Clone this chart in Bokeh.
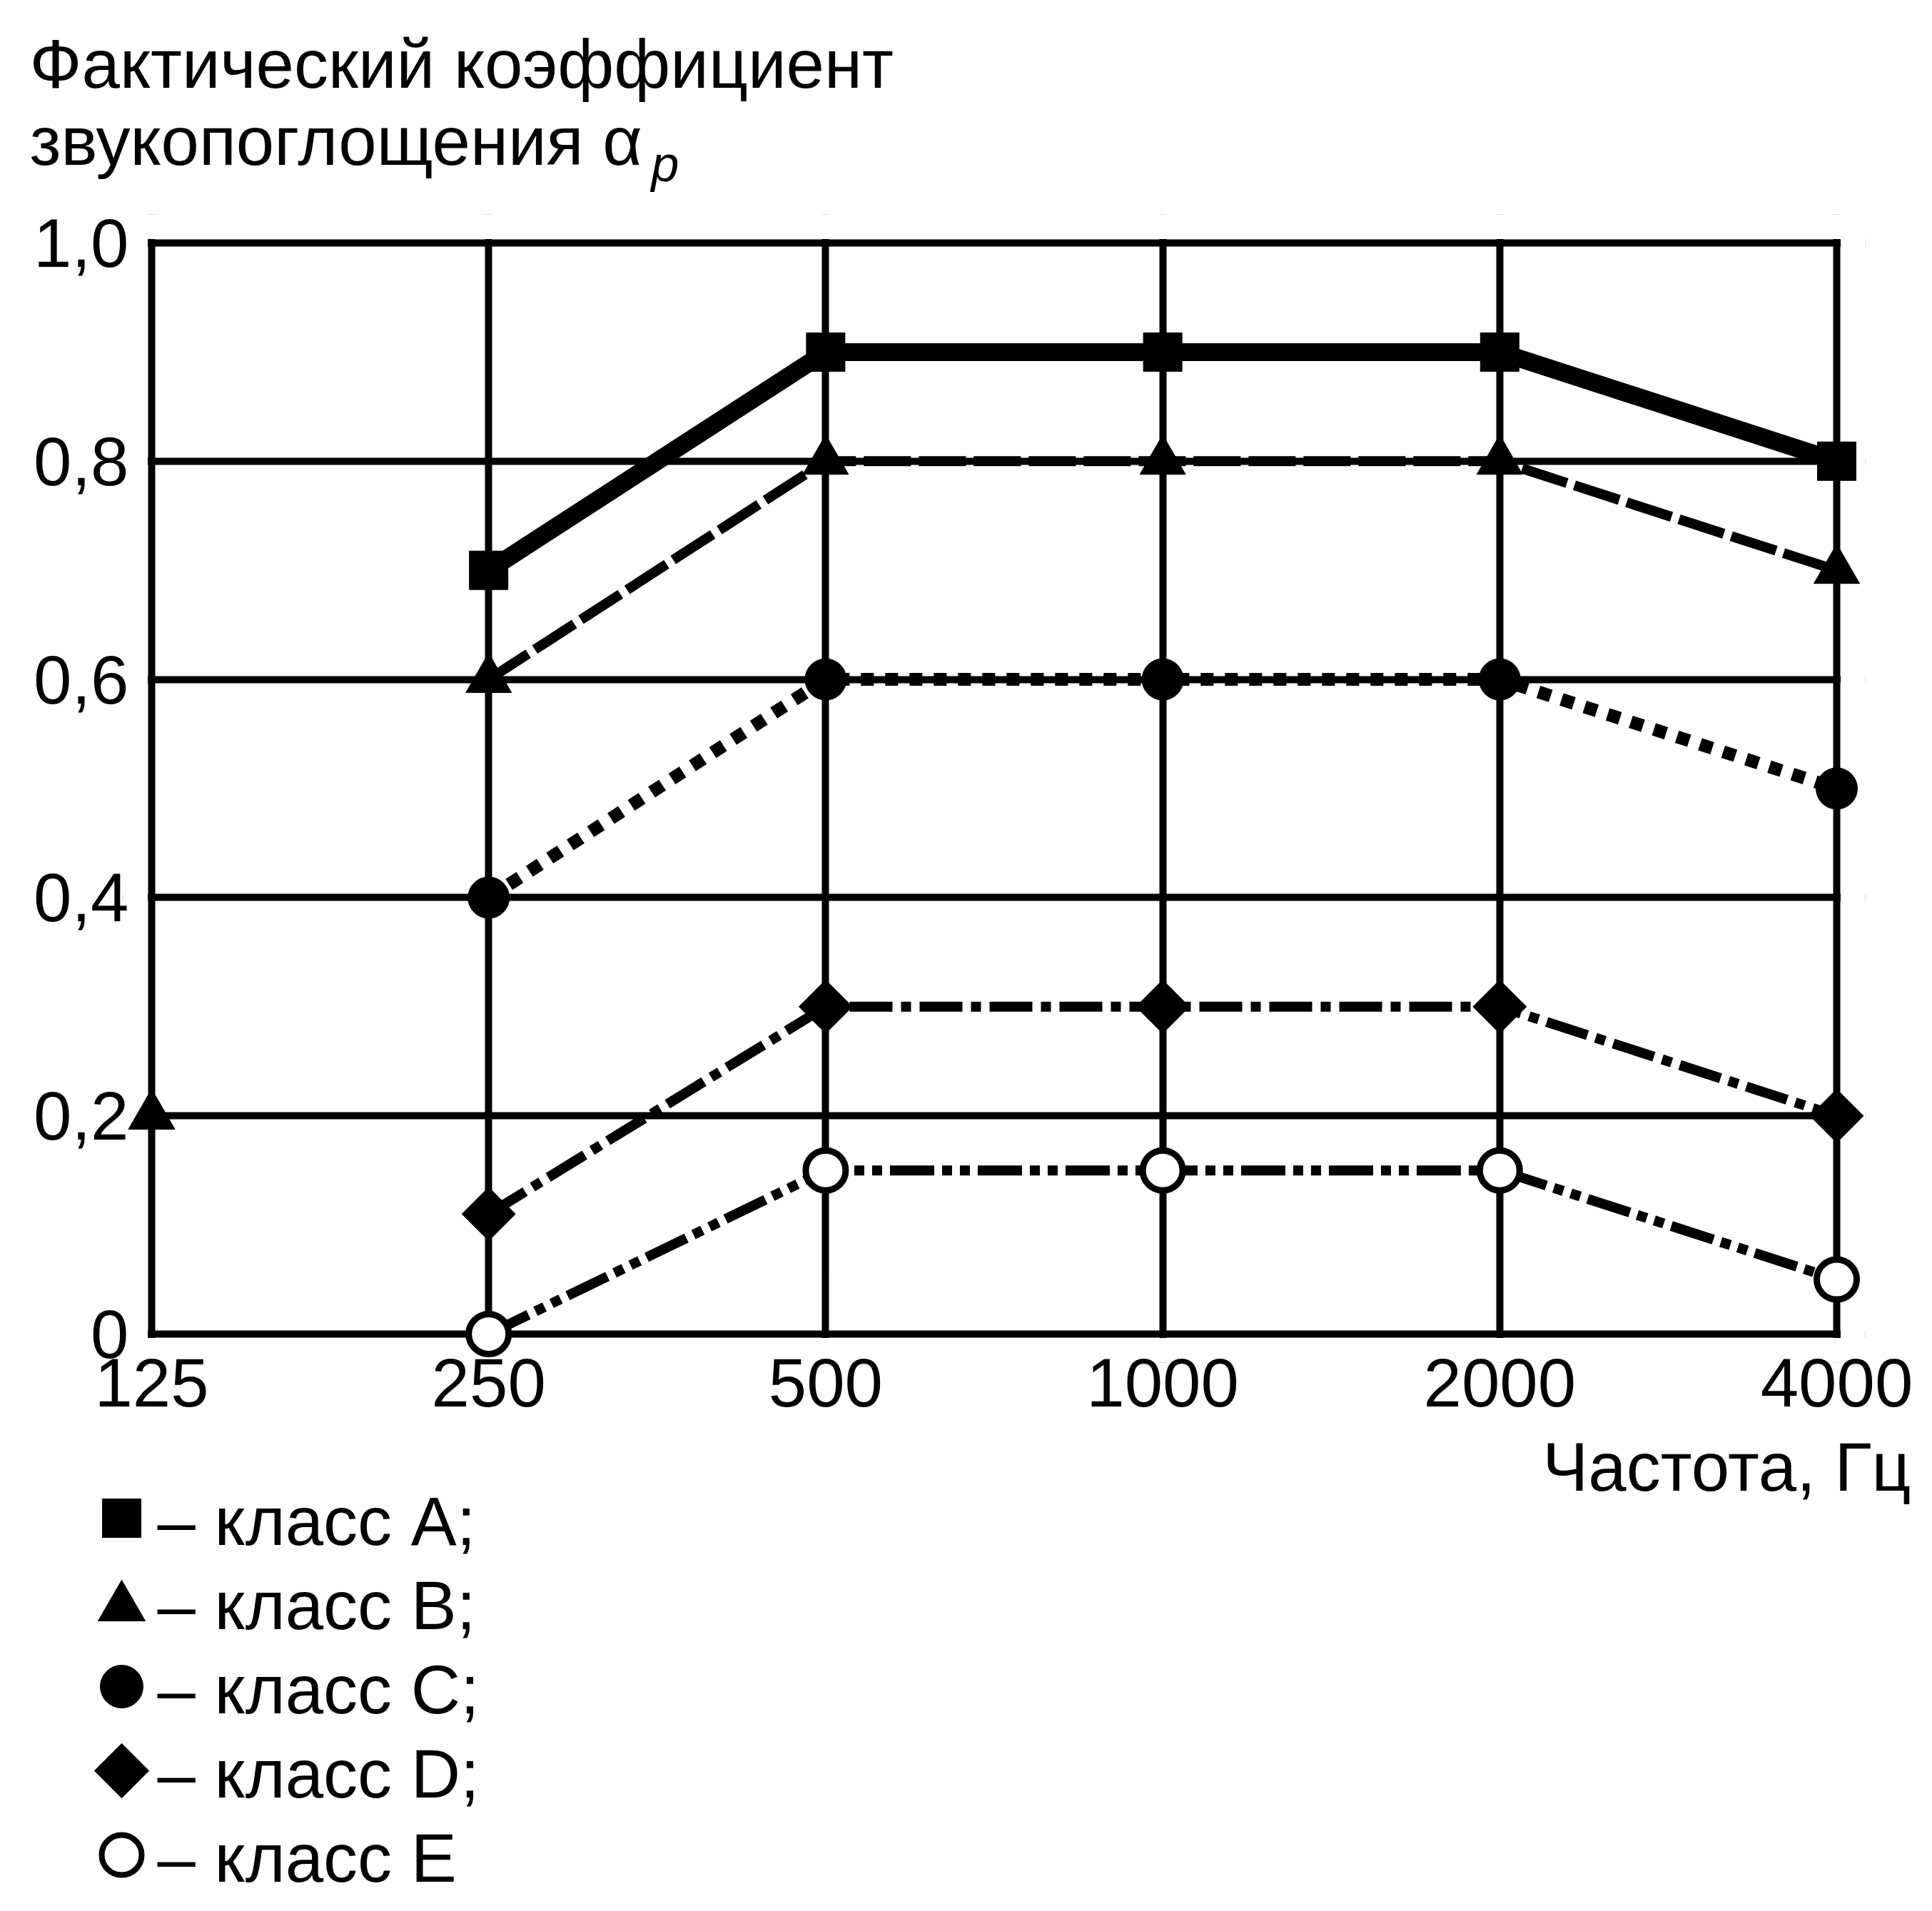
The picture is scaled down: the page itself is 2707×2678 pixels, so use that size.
import math
from bokeh.plotting import figure
from bokeh.models import (Range1d, FixedTicker, CustomJSTickFormatter, ColumnDataSource,
                          BoxAnnotation)
from bokeh.layouts import column
from bokeh.embed import file_html
from bokeh.resources import INLINE
from bokeh.core.properties import value

# ---------------- data ----------------
freq_labels = ["125", "250", "500", "1000", "2000", "4000"]
freq_idx = [1, 2, 3, 4, 5]          # positions of 250 ... 4000 on the octave axis
class_A = [0.70, 0.90, 0.90, 0.90, 0.80]
class_B = [0.60, 0.80, 0.80, 0.80, 0.70]
class_C = [0.40, 0.60, 0.60, 0.60, 0.50]
class_D = [0.11, 0.30, 0.30, 0.30, 0.20]
class_E = [0.00, 0.15, 0.15, 0.15, 0.05]
extra_B_x = [0]                      # lone triangle at 125 Hz
extra_B_y = [0.20]
y_ticks = [0, 0.2, 0.4, 0.6, 0.8, 1.0]
legend_labels = ["– класс A;", "– класс B;", "– класс C;", "– класс D;", "– класс E"]
title_lines = ["Фактический коэффициент", "звукопоглощения α"]
title_sub = "p"
x_title = "Частота, Гц"

FONT = "Liberation Sans"
FS = "96px"
MID96 = 25      # baseline lies this far below the 'middle' anchor for 96px text
MID70 = 17

# ---------------- layout constants (canvas px) ----------------
W = 2691
H_TOTAL = 2662
H_TOP = 280
BOX_L, BOX_R, BOX_T, BOX_B = 212, 2573, 340, 1869
PAD = 40
ux = (BOX_R - BOX_L) / 5.0
uy = (BOX_B - BOX_T) / 1.0
padx = PAD / ux
pady = PAD / uy
FRAME_W = (BOX_R - BOX_L) + 2 * PAD
FRAME_H = (BOX_B - BOX_T) + 2 * PAD
AXIS_H = 83                       # bottom border of the chart (holds the tick labels)
S_BOT = BOX_B + PAD + AXIS_H      # canvas y where the lower panel starts

# ---------------- title panel ----------------
top = figure(width=W, height=H_TOP, x_range=Range1d(0, W), y_range=Range1d(H_TOP, 0),
             min_border=0, x_axis_location=None, y_axis_location=None,
             output_backend="svg", toolbar_location=None, frame_align=False)
top.outline_line_color = None
top.grid.visible = False
top.text([41, 41], [114 - MID96, 222 - MID96], text=title_lines, text_font=value(FONT),
         text_font_size=FS, text_color="black", text_align="left",
         text_baseline="middle")
top.text([912], [246 - MID70], text=[title_sub], text_font=value(FONT),
         text_font_size="70px", text_font_style="italic", text_color="black",
         text_align="left", text_baseline="middle")

# ---------------- main chart ----------------
p = figure(frame_width=FRAME_W, frame_height=FRAME_H,
           x_range=Range1d(-padx, 5 + padx), y_range=Range1d(-pady, 1 + pady),
           output_backend="svg", toolbar_location=None, frame_align=False,
           min_border_left=BOX_L - PAD, min_border_right=W - (BOX_R + PAD),
           min_border_top=BOX_T - PAD - H_TOP, min_border_bottom=AXIS_H)
p.outline_line_color = None
p.background_fill_color = "white"
p.border_fill_color = "white"

p.xaxis.ticker = FixedTicker(ticks=list(range(len(freq_labels))))
p.xaxis.formatter = CustomJSTickFormatter(args=dict(labels=freq_labels),
                                          code="return labels[Math.round(tick)];")
p.yaxis.ticker = FixedTicker(ticks=y_ticks)
p.yaxis.formatter = CustomJSTickFormatter(
    code="return Math.abs(tick) < 1e-9 ? '0' : tick.toFixed(1).replace('.', ',');")
for ax in (p.xaxis[0], p.yaxis[0]):
    ax.axis_line_color = None
    ax.major_tick_line_color = None
    ax.minor_tick_line_color = None
    ax.major_tick_out = 0
    ax.major_tick_in = 0
    ax.major_label_text_font = FONT
    ax.major_label_text_font_size = FS
    ax.major_label_text_color = "black"
p.xaxis.major_label_standoff = -6
p.yaxis.major_label_standoff = -8

p.grid.grid_line_color = "black"
p.grid.grid_line_width = 10
p.grid.grid_line_alpha = 1.0
p.grid.level = "image"

# white masks so that grid lines stop at the chart box
hw_x, hw_y = 5.5 / ux, 5.5 / uy
ex, ey = 3 * padx, 3 * pady
for l, r, b, t in [(-ex, -hw_x, -ey, 1 + ey),
                   (5 + hw_x, 5 + ex, -ey, 1 + ey),
                   (-ex, 5 + ex, 1 + hw_y, 1 + ey),
                   (-ex, 5 + ex, -ey, -hw_y)]:
    p.add_layout(BoxAnnotation(left=l, right=r, bottom=b, top=t, fill_color="white",
                               fill_alpha=1.0, line_color=None, level="underlay"))

# ---------------- series ----------------
p.line(freq_idx, class_B, line_color="black", line_width=14, line_dash="66 11")
p.line(freq_idx, class_C, line_color="black", line_width=18, line_dash="18 16")
p.line(freq_idx, class_D, line_color="black", line_width=14, line_dash="60 12 14 12")
p.line(freq_idx, class_E, line_color="black", line_width=14, line_dash="62 11 14 11 14 11")
p.line(freq_idx, class_A, line_color="black", line_width=25)

p.scatter(freq_idx, class_A, marker="square", size=54, color="black")
p.scatter(freq_idx, class_B, marker="triangle", size=64, color="black")
p.scatter(extra_B_x, extra_B_y, marker="triangle", size=65, color="black")
p.scatter(freq_idx, class_C, marker="circle", size=58, color="black")
p.scatter(freq_idx, class_D, marker="square", angle=math.pi / 4, size=53, color="black")
p.scatter(freq_idx, class_E, marker="circle", size=56, fill_color="white",
          line_color="black", line_width=9)

# ---------------- lower panel: axis title + legend ----------------
H_BOT = H_TOTAL - S_BOT
bot = figure(width=W, height=H_BOT, x_range=Range1d(0, W),
             y_range=Range1d(H_TOTAL, S_BOT),
             min_border=0, x_axis_location=None, y_axis_location=None,
             output_backend="svg", toolbar_location=None, frame_align=False)
bot.outline_line_color = None
bot.grid.visible = False

bot.text([2677], [2080 - MID96], text=[x_title], text_font=value(FONT), text_font_size=FS,
         text_color="black", text_align="right", text_baseline="middle")

ROW0, STEP = 2156, 118       # baseline of first legend row, row pitch
n = len(legend_labels)
base_y = [ROW0 + STEP * i for i in range(n)]
marker_lift = [29, 22, 29, 29, 29]
leg_src = ColumnDataSource(dict(
    x=[170] * n,
    tx=[220] * n,
    my=[b - m for b, m in zip(base_y, marker_lift)],
    ty=[b - MID96 for b in base_y],
    label=legend_labels,
    marker=["square", "triangle", "circle", "square", "circle"],
    angle=[0, 0, 0, math.pi / 4, 0],
    size=[54, 66, 60, 54, 56],
    fill=["black", "black", "black", "black", "white"],
    lw=[1, 1, 1, 1, 8],
))
bot.scatter("x", "my", source=leg_src, marker="marker", angle="angle", size="size",
            fill_color="fill", line_color="black", line_width="lw")
bot.text("tx", "ty", text="label", source=leg_src,
         text_font=value(FONT), text_font_size=FS, text_color="black",
         text_align="left", text_baseline="middle")

layout = column(top, p, bot, spacing=0)
open("out.html", "w").write(file_html(layout, INLINE))
